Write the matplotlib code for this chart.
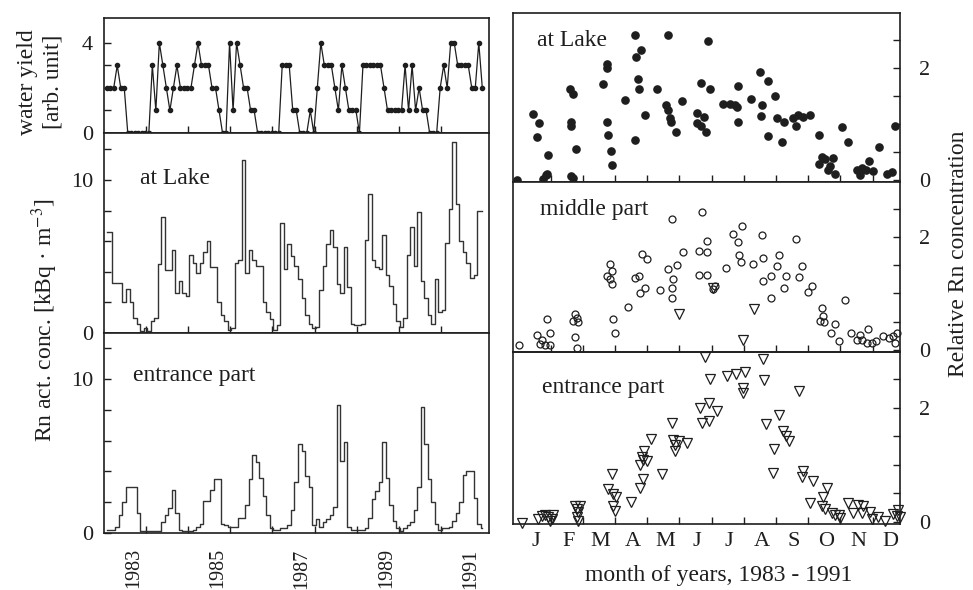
import matplotlib
matplotlib.use("Agg")
import matplotlib.pyplot as plt
import numpy as np

plt.rcParams['font.family'] = ['Liberation Serif', 'DejaVu Serif']
plt.rcParams['mathtext.fontset'] = 'stix'

# ---------------- data ----------------
start_year = 1983
water_yield = [2, 2, 2, 3, 2, 2, 0, 0, 0, 0, 0, 0,
               0, 3, 1, 4, 3, 2, 1, 2, 3, 2, 2, 2,
               2, 3, 4, 3, 3, 3, 2, 2, 1, 0, 0, 4,
               1, 4, 3, 2, 2, 1, 1, 0, 0, 0, 0, 0,
               0, 0, 3, 3, 3, 1, 1, 0, 0, 0, 1, 0,
               2, 4, 3, 3, 3, 2, 1, 3, 2, 1, 1, 1,
               0, 3, 3, 3, 3, 3, 3, 2, 1, 1, 1, 1,
               1, 3, 1, 3, 1, 2, 1, 1, 0, 0, 0, 2,
               3, 2, 4, 4, 3, 3, 3, 3, 2, 2, 4, 2]

rn_lake = [6.6, 6.6, 3.3, 3.3, 3.3, 2.0, 2.9, 2.0, 1.0, 0.6, 0.1, 0.3,
           0.1, 0.8, 1.0, 4.5, 7.6, 4.1, 4.1, 5.4, 2.6, 3.4, 2.6, 2.4,
           5.1, 4.6, 3.9, 4.6, 5.3, 6.0, 4.3, 4.3, 2.0, 1.2, 0.8, 0.2,
           0.3, 4.6, 4.8, 11.3, 3.9, 5.4, 4.8, 4.4, 4.4, 2.0, 1.4, 0.9,
           0.2, 0.5, 7.2, 4.2, 5.8, 5.0, 4.4, 3.5, 2.3, 1.2, 0.6, 0.3,
           0.4, 2.8, 4.4, 5.8, 6.7, 5.6, 3.2, 2.6, 5.6, 3.0, 0.6, 0.5,
           0.5, 0.6, 6.1, 9.1, 4.8, 4.3, 4.2, 6.4, 3.8, 3.1, 1.9, 0.8,
           0.4, 1.0, 5.1, 6.9, 4.4, 7.9, 3.4, 2.3, 1.2, 0.6, 3.5, 1.4,
           1.5, 5.9, 8.1, 12.5, 8.4, 6.0, 5.3, 4.6, 3.6, 3.8, 8.0, 8.0]

rn_entrance = [0.2, 0.2, 0.2, 0.4, 1.2, 2.0, 3.0, 3.0, 3.0, 1.3, 0.1, 0.1,
               0.1, 0.1, 0.1, 0.1, 0.7, 1.2, 1.6, 2.8, 1.3, 0.2, 0.1, 0.1,
               0.1, 0.2, 0.4, 0.6, 2.1, 2.1, 2.8, 3.5, 3.5, 0.6, 0.5, 0.4,
               0.4, 0.4, 1.0, 1.0, 1.8, 3.5, 5.1, 4.6, 3.6, 2.4, 1.2, 0.3,
               0.2, 0.2, 0.3, 0.3, 0.5, 1.5, 3.3, 5.8, 5.3, 3.7, 3.0, 0.5,
               0.9, 0.4, 0.7, 0.9, 1.2, 1.7, 8.3, 4.7, 5.9, 0.4, 0.2, 0.2,
               0.2, 0.2, 0.3, 1.0, 2.2, 2.7, 3.3, 5.9, 3.6, 1.8, 0.8, 0.3,
               0.1, 0.3, 0.5, 0.7, 1.5, 3.0, 8.2, 5.8, 3.5, 2.0, 0.6, 0.2,
               0.3, 0.3, 0.4, 0.8, 1.3, 2.0, 3.8, 4.0, 4.0, 2.3, 0.6, 0.3]

year_labels = ['1983', '1985', '1987', '1989', '1991']
month_labels = ['J', 'F', 'M', 'A', 'M', 'J', 'J', 'A', 'S', 'O', 'N', 'D']

lake_month = [0.44, 0.65, 0.57, 0.91, 0.88, 0.75, 0.85, -0.06,
              1.60, 1.68, 1.63, 1.63, 1.79, 1.63, 1.68,
              2.74, 2.74, 2.64, 2.74, 2.79, 2.87, 2.90,
              3.31, 3.62, 3.62, 3.65, 3.80, 3.70, 3.75, 3.93,
              4.29, 4.65, 4.57, 4.65, 4.71, 4.74, 4.88, 5.07,
              5.53, 5.77, 5.53, 5.67, 5.81, 5.66, 5.95, 5.90,
              6.34, 6.57, 6.72, 6.80, 6.83, 6.83,
              7.22, 7.50, 7.76, 7.55, 7.52, 7.74, 7.97,
              8.04, 8.26, 8.20, 8.54, 8.68, 8.85, 9.04, 8.62,
              9.34, 9.42, 9.34, 9.52, 9.67, 9.62, 9.83, 9.76,
              10.04, 10.24, 10.50, 10.66, 10.79, 10.90, 11.02, 10.61,
              11.21, 11.44, 11.59, 11.69]
lake_val = [1.18, 1.01, 0.76, 0.45, 0.11, 0.01, 0.09, -0.01,
            1.62, 1.54, 1.04, 0.96, 0.55, 0.06, 0.03,
            2.06, 2.00, 1.71, 1.04, 0.80, 0.51, 0.27,
            1.43, 2.59, 0.71, 2.19, 2.31, 1.80, 1.62, 1.16,
            1.62, 2.59, 1.34, 1.25, 1.10, 1.04, 0.86, 1.40,
            1.19, 1.12, 1.01, 0.96, 0.86, 1.73, 1.62, 2.48,
            1.36, 1.36, 1.34, 1.30, 1.04, 1.68,
            1.45, 1.93, 1.77, 1.34, 1.14, 0.79, 1.49,
            1.11, 1.04, 0.67, 1.10, 1.16, 1.13, 1.16, 0.96,
            0.80, 0.41, 0.29, 0.37, 0.24, 0.17, 0.11, 0.39,
            0.94, 0.68, 0.17, 0.21, 0.18, 0.33, 0.15, 0.09,
            0.59, 0.11, 0.13, 0.96]

middle_month = [0.03, 0.57, 0.72, 0.67, 0.82, 0.98, 0.98, 0.88,
                1.76, 1.81, 1.70, 1.86, 1.76, 1.81,
                2.84, 2.90, 2.74, 2.84, 2.90, 2.95, 3.00,
                3.39, 3.62, 3.75, 3.77, 3.93, 3.83, 3.98,
                4.40, 4.65, 4.91, 4.76, 4.79, 4.76, 4.76,
                5.12, 5.61, 5.87, 5.85, 5.71, 5.61, 5.85, 6.10, 6.05,
                6.45, 6.67, 6.83, 6.93, 6.86, 6.90,
                7.29, 7.55, 7.60, 7.58, 7.83, 7.83, 8.02, 8.10, 8.31, 8.26,
                8.62, 8.72, 8.80, 9.00, 9.13,
                9.42, 9.45, 9.37, 9.50, 9.83, 9.71, 9.94,
                10.14, 10.32, 10.50, 10.61, 10.66, 10.86, 10.81, 10.97,
                11.12, 11.31, 11.52, 11.69, 11.75, 11.62]
middle_val = [0.09, 0.27, 0.18, 0.11, 0.09, 0.09, 0.30, 0.54,
              0.63, 0.57, 0.51, 0.49, 0.23, 0.03,
              1.52, 1.40, 1.31, 1.25, 1.16, 0.54, 0.30,
              0.76, 1.28, 1.31, 1.01, 1.10, 1.70, 1.61,
              1.07, 1.44, 1.50, 2.32, 1.26, 1.10, 0.92,
              1.74, 1.76, 1.74, 1.93, 2.45, 1.32, 1.32, 1.13, 1.08,
              1.46, 2.05, 1.92, 2.20, 1.68, 1.56,
              1.52, 2.04, 1.63, 1.23, 1.31, 0.92, 1.48, 1.68, 1.31, 1.09,
              1.96, 1.29, 1.48, 1.02, 1.13,
              0.74, 0.60, 0.51, 0.49, 0.46, 0.30, 0.15,
              0.89, 0.30, 0.18, 0.27, 0.18, 0.37, 0.12, 0.12,
              0.15, 0.24, 0.21, 0.12, 0.30, 0.24]

entrance_month = [0.10, 0.62, 0.72, 0.82, 0.93, 1.03, 1.08, 0.98,
                  1.76, 1.81, 1.86, 1.91, 1.81, 1.86,
                  2.90, 2.79, 2.95, 3.03, 2.95, 3.00, 3.50,
                  3.77, 3.86, 3.77, 3.86, 3.90, 3.98, 3.83,
                  4.12, 4.47, 4.76, 4.81, 4.86, 4.86, 5.00, 5.22,
                  5.64, 5.93, 6.16, 5.69, 5.93, 5.95,
                  6.49, 6.77, 7.03, 6.96, 6.96,
                  7.64, 7.68, 8.10, 8.22, 8.31, 8.39, 7.94, 7.92,
                  8.72, 8.85, 8.80, 9.07, 9.16, 9.57, 9.47, 9.42, 9.52,
                  9.73, 9.83, 9.94, 9.99,
                  10.22, 10.40, 10.55, 10.71, 10.66,
                  10.92, 10.97, 11.17, 11.38, 11.64, 11.80, 11.85, 11.75,
                  4.99, 6.05, 7.31, 6.96, 5.79, 7.60]
entrance_val = [-0.02, 0.05, 0.10, 0.11, 0.08, 0.05, 0.11, 0.02,
                0.28, 0.23, 0.17, 0.27, 0.08, 0.01,
                0.83, 0.57, 0.49, 0.43, 0.28, 0.18, 0.34,
                0.60, 0.75, 0.99, 1.08, 1.24, 1.07, 1.13,
                1.46, 0.83, 1.73, 1.43, 1.34, 1.24, 1.41, 1.39,
                2.00, 2.08, 1.95, 1.74, 1.76, 2.50,
                2.56, 2.59, 2.63, 2.34, 2.26,
                2.49, 1.72, 1.88, 1.59, 1.51, 1.41, 1.28, 0.85,
                2.30, 0.89, 0.79, 0.33, 0.72, 0.60, 0.43, 0.28, 0.23,
                0.16, 0.12, 0.11, 0.06,
                0.33, 0.16, 0.30, 0.27, 0.16,
                0.17, 0.05, 0.08, 0.02, 0.14, 0.20, 0.08, 0.10,
                3.65, 4.11, 3.73, 3.19, 2.89, 2.86]

# ---------------- figure ----------------
W, H = 973, 590
fig = plt.figure(figsize=(W / 100, H / 100), dpi=100)
fig.patch.set_facecolor('white')

def px_axes(x0, y0, x1, y1):
    return fig.add_axes([x0 / W, 1 - y1 / H, (x1 - x0) / W, (y1 - y0) / H])

INK = '#1e1e1e'
FS = 17
TFS = 16

lx0, lx1 = 104, 489
ax_w = px_axes(lx0, 18, lx1, 133)
ax_l = px_axes(lx0, 133, lx1, 333)
ax_e = px_axes(lx0, 333, lx1, 533)

rx0, rx1 = 513, 900
ax_rl = px_axes(rx0, 13, rx1, 182)
ax_rm = px_axes(rx0, 182, rx1, 352)
ax_re = px_axes(rx0, 352, rx1, 524)

n = len(water_yield)
t = start_year + (np.arange(n) + 0.77) / 12.0

for ax in (ax_w, ax_l, ax_e, ax_rl, ax_rm, ax_re):
    for s in ax.spines.values():
        s.set_linewidth(1.2)
        s.set_color(INK)

# left panels
ax_w.plot(t, water_yield, '-', color=INK, lw=0.9, marker='o', ms=3.0,
          mfc=INK, mec=INK, clip_on=False)
ax_w.set_ylim(0, 5.1)
ax_l.step(t, rn_lake, where='mid', color='#333333', lw=1.0)
ax_l.set_ylim(0, 13.07)
ax_e.step(t, rn_entrance, where='mid', color='#333333', lw=1.0)
ax_e.set_ylim(0, 13.0)

years = np.arange(start_year + 1, start_year + 9)
for ax in (ax_w, ax_l, ax_e):
    ax.set_xlim(start_year, start_year + 9.14)
    ax.set_xticks(years, minor=True)
    ax.tick_params(axis='x', which='minor', direction='in', length=5,
                   width=1, color=INK, top=False, bottom=True)
    ax.tick_params(axis='y', which='both', direction='in', length=5,
                   width=1, color=INK, left=True, right=False,
                   labelsize=TFS, pad=8, labelcolor=INK)
    ax.set_xticks([])

ax_w.set_yticks([0, 4])
ax_w.set_yticks([1, 2, 3], minor=True)
for ax in (ax_l, ax_e):
    ax.set_yticks([0, 10])
    ax.set_yticks([2, 4, 6, 8, 12], minor=True)

ax_e.set_xticks([int(y) + 0.7 for y in year_labels])
ax_e.set_xticklabels(year_labels, rotation=90, fontsize=14.5, color=INK)
ax_e.tick_params(axis='x', which='major', length=0, pad=11)


def ftext(x, y, s, ha='center', **kw):
    fig.text(x / W, 1 - y / H, s, fontsize=FS, color=INK, ha=ha,
             va='center', **kw)


ftext(140, 178, 'at Lake', ha='left', zorder=10)
ftext(133, 376, 'entrance part', ha='left', zorder=10)

# right panels
ax_rl.plot(lake_month, lake_val, 'o', ms=5.2, mfc=INK, mec=INK,
           clip_on=False)
ax_rm.plot(middle_month, middle_val, 'o', ms=5.0, mfc='none', mec=INK,
           mew=0.9, clip_on=False)
ax_re.plot(entrance_month, entrance_val, 'v', ms=6.5, mfc='none', mec=INK,
           mew=0.9, clip_on=False)

for ax in (ax_rl, ax_rm, ax_re):
    ax.set_xlim(-0.17, 11.85)
    ax.set_ylim(-0.04, 2.98)
    ax.set_yticks([0, 2])
    ax.set_yticks([0.5, 1.0, 1.5, 2.5], minor=True)
    ax.yaxis.tick_right()
    ax.tick_params(axis='y', which='both', direction='in', length=5,
                   width=1, color=INK, left=False, right=True,
                   labelleft=False, labelright=True, labelsize=TFS, pad=14,
                   labelcolor=INK)
    ax.set_xticks([])
    ax.set_xticks(np.arange(1, 12), minor=True)
    ax.tick_params(axis='x', which='minor', direction='in', length=5,
                   width=1, color=INK, bottom=True, top=False)

ax_re.set_xticks(np.arange(12) + 0.55)
ax_re.set_xticklabels(month_labels, fontsize=TFS, color=INK)
ax_re.tick_params(axis='x', which='major', length=0, pad=6)

ftext(537, 40, 'at Lake', ha='left', zorder=10)
ftext(540, 210, 'middle part', ha='left', zorder=10)
ftext(542, 388, 'entrance part', ha='left', zorder=10)

# draw order so overflowing entrance markers show above the middle panel
ax_re.set_zorder(3)
ax_rm.set_zorder(2)
ax_rl.set_zorder(1)
ax_re.patch.set_alpha(0)

# axis labels
ftext(27, 82, 'water yield', rotation=90)
ftext(53, 82, '[arb. unit]', rotation=90)
ftext(45, 320, r'Rn act. conc. [kBq · m$^{-3}$]', rotation=90)
ftext(958, 254, 'Relative Rn concentration', rotation=90)
ftext(719, 575, 'month of years, 1983 - 1991')

fig.savefig('out.png', dpi=100, facecolor='white')
